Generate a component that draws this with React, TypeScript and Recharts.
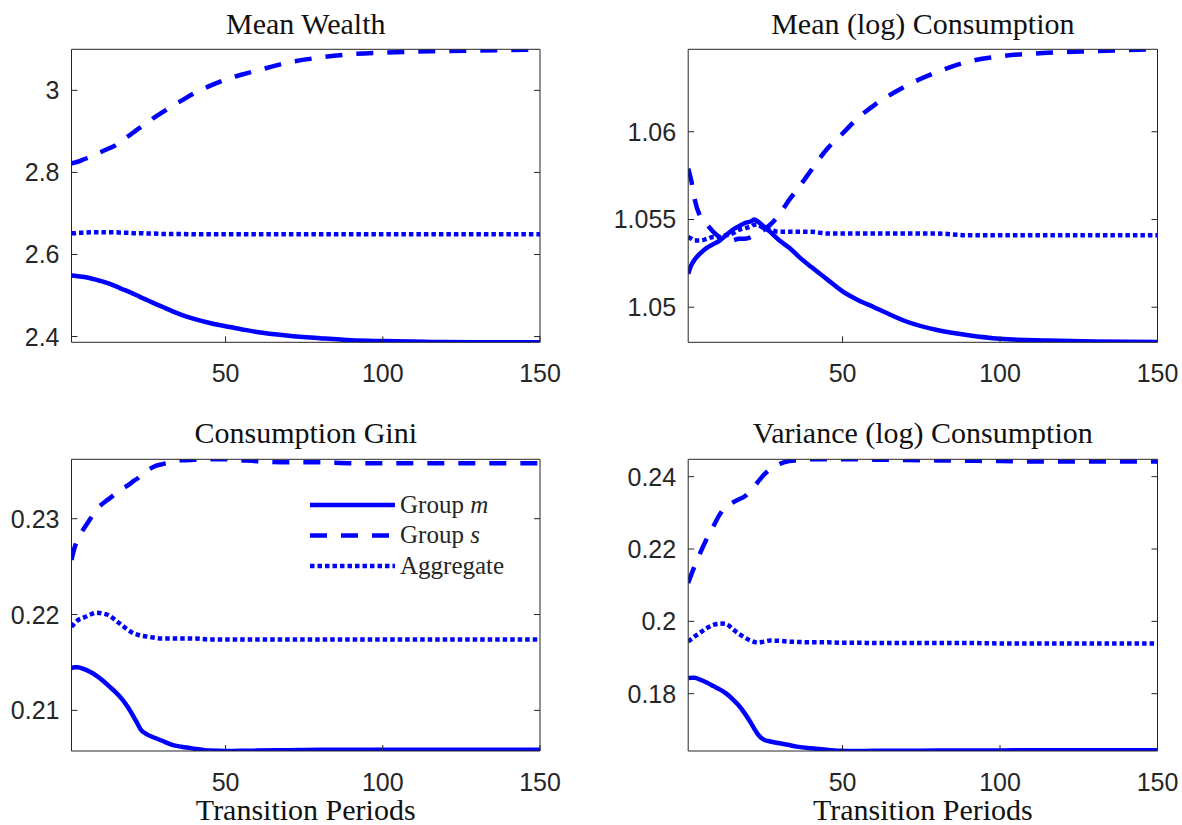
import { LineChart, Line, XAxis, YAxis } from 'recharts'

const periods = [1, 2, 3, 5, 7, 9, 11, 13, 15, 17, 19, 21, 22, 23, 25, 27, 30, 33, 36, 40, 45, 50, 55, 60, 70, 80, 90, 100, 115, 130, 150]

// Mean Wealth
const wealthM = [2.549, 2.548, 2.547, 2.545, 2.542, 2.538, 2.534, 2.529, 2.523, 2.516, 2.51, 2.503, 2.5, 2.496, 2.489, 2.482, 2.472, 2.462, 2.453, 2.443, 2.433, 2.425, 2.418, 2.411, 2.402, 2.396, 2.391, 2.389, 2.387, 2.386, 2.386]
const wealthS = [2.822, 2.824, 2.826, 2.832, 2.838, 2.845, 2.852, 2.859, 2.866, 2.877, 2.888, 2.899, 2.905, 2.91, 2.92, 2.932, 2.947, 2.962, 2.975, 2.993, 3.011, 3.026, 3.038, 3.048, 3.068, 3.08, 3.088, 3.092, 3.095, 3.097, 3.099]
const wealthAgg = [2.652, 2.652, 2.653, 2.653, 2.654, 2.654, 2.654, 2.654, 2.654, 2.653, 2.653, 2.652, 2.652, 2.652, 2.651, 2.651, 2.65, 2.65, 2.65, 2.649, 2.649, 2.649, 2.649, 2.649, 2.649, 2.649, 2.649, 2.649, 2.649, 2.649, 2.649]

// Mean (log) Consumption
const consM = [1.0519, 1.0524, 1.0527, 1.0531, 1.0534, 1.0536, 1.0538, 1.0541, 1.0544, 1.0546, 1.0548, 1.0549, 1.055, 1.0549, 1.0546, 1.0543, 1.0538, 1.0534, 1.0529, 1.0523, 1.0516, 1.0509, 1.0504, 1.05, 1.0492, 1.0487, 1.0484, 1.0482, 1.0481, 1.04805, 1.04802]
const consS = [1.0579, 1.0572, 1.0562, 1.0551, 1.0547, 1.0543, 1.054, 1.0539, 1.0538, 1.0539, 1.0539, 1.054, 1.0541, 1.0542, 1.0544, 1.0547, 1.0553, 1.0561, 1.0568, 1.0578, 1.059, 1.0599, 1.0608, 1.0615, 1.0626, 1.0634, 1.064, 1.0643, 1.0645, 1.0646, 1.0647]
const consAgg = [1.054, 1.0539, 1.0538, 1.0538, 1.0539, 1.054, 1.054, 1.0541, 1.0542, 1.0544, 1.0545, 1.0546, 1.0547, 1.0547, 1.0545, 1.0544, 1.0543, 1.0543, 1.0543, 1.0543, 1.0542, 1.0542, 1.0542, 1.0542, 1.0542, 1.0542, 1.0541, 1.0541, 1.0541, 1.0541, 1.0541]

// Consumption Gini
const giniM = [0.2144, 0.2145, 0.2145, 0.2143, 0.214, 0.2136, 0.2131, 0.2125, 0.2119, 0.2112, 0.2103, 0.2092, 0.2086, 0.208, 0.2075, 0.2072, 0.2068, 0.2064, 0.2062, 0.206, 0.2058, 0.20577, 0.20578, 0.2058, 0.20585, 0.2059, 0.2059, 0.2059, 0.2059, 0.2059, 0.2059]
const giniS = [0.2257, 0.227, 0.2279, 0.229, 0.23, 0.231, 0.2316, 0.2321, 0.2326, 0.2331, 0.2335, 0.234, 0.2342, 0.2345, 0.235, 0.2354, 0.2357, 0.2359, 0.2361, 0.23615, 0.2362, 0.2362, 0.2361, 0.236, 0.2359, 0.2359, 0.2358, 0.2358, 0.2358, 0.2358, 0.2358]
const giniAgg = [0.2187, 0.2191, 0.2194, 0.2197, 0.22, 0.2202, 0.2201, 0.2199, 0.2194, 0.2189, 0.2184, 0.218, 0.2179, 0.2178, 0.2177, 0.2176, 0.2175, 0.2175, 0.2175, 0.2175, 0.2174, 0.2174, 0.2174, 0.2174, 0.2174, 0.2174, 0.2174, 0.2174, 0.2174, 0.2174, 0.2174]

// Variance (log) Consumption
const varM = [0.1843, 0.1844, 0.1844, 0.1838, 0.183, 0.1821, 0.1812, 0.1801, 0.1786, 0.1768, 0.1745, 0.1718, 0.1703, 0.1689, 0.1673, 0.1668, 0.1663, 0.1658, 0.1653, 0.1649, 0.1645, 0.1642, 0.16418, 0.1642, 0.1642, 0.1643, 0.1643, 0.1643, 0.1644, 0.1644, 0.1644]
const varS = [0.2106, 0.213, 0.2152, 0.2193, 0.223, 0.2263, 0.2295, 0.2318, 0.2328, 0.2337, 0.2346, 0.2363, 0.2374, 0.2384, 0.2405, 0.242, 0.2435, 0.2443, 0.2446, 0.2448, 0.2448, 0.2448, 0.2448, 0.2447, 0.2446, 0.2445, 0.2444, 0.2443, 0.2442, 0.2442, 0.2442]
const varAgg = [0.1944, 0.1951, 0.1958, 0.197, 0.1982, 0.199, 0.1994, 0.1993, 0.198, 0.1966, 0.1955, 0.1946, 0.1943, 0.1941, 0.1944, 0.1947, 0.1946, 0.1944, 0.1943, 0.1942, 0.1942, 0.1941, 0.1941, 0.194, 0.194, 0.194, 0.194, 0.1939, 0.1939, 0.1939, 0.1939]

const xTicks = [50, 100, 150]
const wealthTicks = [2.4, 2.6, 2.8, 3]
const consTicks = [1.05, 1.055, 1.06]
const giniTicks = [0.21, 0.22, 0.23]
const varTicks = [0.18, 0.2, 0.22, 0.24]

const BLUE = '#0000ff'
const INK = '#262626'
const SANS = '"Liberation Sans", Arial, sans-serif'
const SERIF = '"Liberation Serif", "Times New Roman", serif'
const TICK_LEN = 6
const TICK_FONT = 25

const CHART_W = 591
const cols = [
  { x: 0, left: 11.5, right: 50 },
  { x: 591, left: 37.2, right: 23.5 },
]
const rowsLayout = [
  { y: 0, h: 412, top: 48.3, bottom: 39.7 },
  { y: 412, h: 413, top: 46.3, bottom: 44 },
]

function buildRows(m: number[], s: number[], agg: number[]) {
  return periods.map((p, i) => ({ period: p, m: m[i], s: s[i], agg: agg[i] }))
}

// MATLAB style: tick marks point into the box
function LeftTick({ x, y, payload }: any) {
  return (
    <g>
      <line x1={x} x2={x + TICK_LEN} y1={y} y2={y} stroke={INK} />
      <text x={x - 12} y={y} dy='0.36em' textAnchor='end' fill={INK} fontSize={TICK_FONT} fontFamily={SANS}>
        {payload.value}
      </text>
    </g>
  )
}

function BottomTick({ x, y, payload }: any) {
  return (
    <g>
      <line x1={x} x2={x} y1={y} y2={y - TICK_LEN} stroke={INK} />
      <text x={x} y={y + 39.5} textAnchor='middle' fill={INK} fontSize={TICK_FONT} fontFamily={SANS}>
        {payload.value}
      </text>
    </g>
  )
}

function TopTick({ x, y }: any) {
  return <line x1={x} x2={x} y1={y} y2={y + TICK_LEN} stroke={INK} />
}

function RightTick({ x, y }: any) {
  return <line x1={x} x2={x - TICK_LEN} y1={y} y2={y} stroke={INK} />
}

const legendItems = [
  { key: 'm', label: 'Group ', ital: 'm', dash: undefined },
  { key: 's', label: 'Group ', ital: 's', dash: '17 14' },
  { key: 'agg', label: 'Aggregate', ital: '', dash: '4.5 3' },
]

function LegendBox() {
  return (
    <svg width={230} height={100} style={{ position: 'absolute', left: 305, top: 488 }}>
      {legendItems.map((it, i) => (
        <g key={it.key}>
          <line x1={5} x2={90} y1={17 + i * 30.5} y2={17 + i * 30.5} stroke={BLUE} strokeWidth={4.5} strokeDasharray={it.dash} />
          <text x={95} y={24.5 + i * 30.5} fontFamily={SERIF} fontSize={25} fill={INK}>
            {it.label}
            {it.ital && <tspan fontStyle='italic'>{it.ital}</tspan>}
          </text>
        </g>
      ))}
    </svg>
  )
}

type PanelProps = {
  col: number
  row: number
  title: string
  data: { period: number; m: number; s: number; agg: number }[]
  domain: [number, number]
  ticks: number[]
  xLabel?: boolean
}

function Panel({ col, row, title, data, domain, ticks, xLabel }: PanelProps) {
  const c = cols[col]
  const r = rowsLayout[row]
  const plotLeft = c.x + c.left + 60
  const plotWidth = CHART_W - c.left - c.right - 61
  const textStyle = {
    position: 'absolute' as const,
    left: plotLeft,
    width: plotWidth,
    textAlign: 'center' as const,
    fontFamily: SERIF,
    fontSize: 30,
    lineHeight: '22px',
    color: '#111',
    whiteSpace: 'nowrap' as const,
  }
  return (
    <>
      <div style={{ position: 'absolute', left: c.x, top: r.y }}>
        <LineChart
          width={CHART_W}
          height={r.h}
          data={data}
          margin={{ top: r.top, right: c.right, bottom: r.bottom, left: c.left }}
        >
          <XAxis
            xAxisId='b'
            dataKey='period'
            type='number'
            domain={[1, 150]}
            allowDataOverflow
            ticks={xTicks}
            interval={0}
            height={30}
            tickSize={0}
            tickMargin={0}
            tickLine={false}
            stroke={INK}
            tick={<BottomTick />}
          />
          <XAxis
            xAxisId='t'
            orientation='top'
            type='number'
            domain={[1, 150]}
            allowDataOverflow
            ticks={xTicks}
            interval={0}
            height={1}
            tickSize={0}
            tickMargin={0}
            tickLine={false}
            stroke={INK}
            tick={<TopTick />}
          />
          <YAxis
            yAxisId='l'
            type='number'
            domain={domain}
            allowDataOverflow
            ticks={ticks}
            interval={0}
            width={60}
            tickSize={0}
            tickMargin={0}
            tickLine={false}
            stroke={INK}
            tick={<LeftTick />}
          />
          <YAxis
            yAxisId='r'
            orientation='right'
            type='number'
            domain={domain}
            allowDataOverflow
            ticks={ticks}
            interval={0}
            width={1}
            tickSize={0}
            tickMargin={0}
            tickLine={false}
            stroke={INK}
            tick={<RightTick />}
          />
          <Line xAxisId='b' yAxisId='l' type='monotone' dataKey='agg' stroke={BLUE} strokeWidth={4.5} strokeDasharray='4.5 3' dot={false} activeDot={false} isAnimationActive={false} />
          <Line xAxisId='b' yAxisId='l' type='monotone' dataKey='s' stroke={BLUE} strokeWidth={4.5} strokeDasharray='17 14' dot={false} activeDot={false} isAnimationActive={false} />
          <Line xAxisId='b' yAxisId='l' type='monotone' dataKey='m' stroke={BLUE} strokeWidth={4.5} dot={false} activeDot={false} isAnimationActive={false} />
        </LineChart>
      </div>
      <div style={{ ...textStyle, top: row === 0 ? 13 : 422 }}>{title}</div>
      {xLabel && <div style={{ ...textStyle, top: 799 }}>Transition Periods</div>}
    </>
  )
}

export default function App() {
  return (
    <div style={{ position: 'absolute', left: 0, top: 0, width: 1182, height: 825, background: '#fff', overflow: 'hidden' }}>
      <Panel col={0} row={0} title='Mean Wealth' data={buildRows(wealthM, wealthS, wealthAgg)} domain={[2.386, 3.1]} ticks={wealthTicks} />
      <Panel col={1} row={0} title='Mean (log) Consumption' data={buildRows(consM, consS, consAgg)} domain={[1.048, 1.0647]} ticks={consTicks} />
      <Panel col={0} row={1} title='Consumption Gini' data={buildRows(giniM, giniS, giniAgg)} domain={[0.20576, 0.2362]} ticks={giniTicks} xLabel />
      <Panel col={1} row={1} title='Variance (log) Consumption' data={buildRows(varM, varS, varAgg)} domain={[0.16416, 0.2448]} ticks={varTicks} xLabel />
      <LegendBox />
    </div>
  )
}
